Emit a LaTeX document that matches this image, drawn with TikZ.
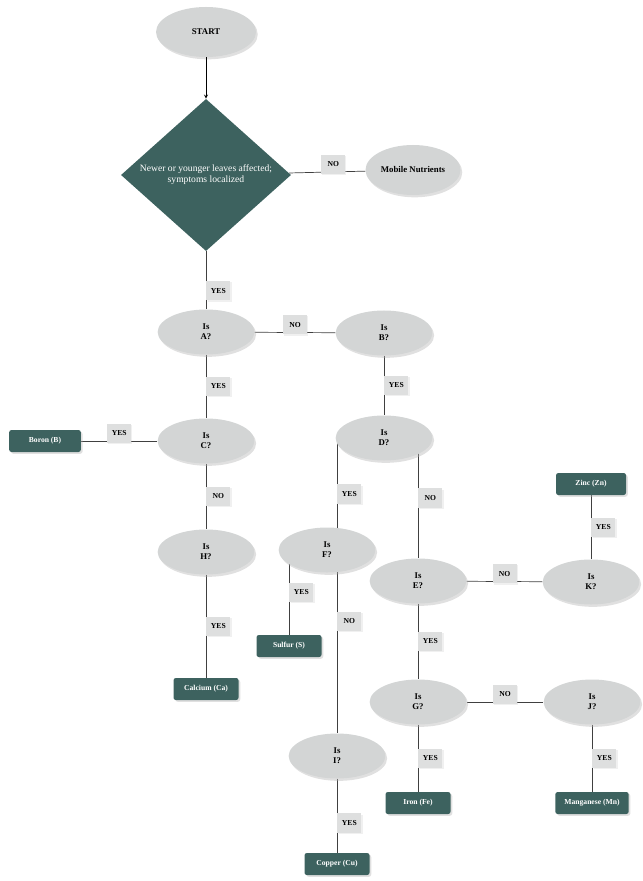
\documentclass[tikz,border=0pt]{standalone}
\usepackage{fontspec}
\setmainfont{Liberation Serif}
\usetikzlibrary{shapes.geometric,shadows,backgrounds}
\definecolor{flowteal}{HTML}{3D625F}
\definecolor{ellgrey}{HTML}{D3D5D5}
\definecolor{tagfill}{HTML}{DEDFDF}
\begin{document}
\begin{tikzpicture}[x=0.03cm,y=-0.03cm,
	question/.style={ellipse,fill=ellgrey,minimum width=2.9cm,minimum height=1.35cm,inner sep=0pt,align=center,
		font=\fontsize{7.5}{8.5}\selectfont\bfseries,drop shadow={fill=gray!60,opacity=0.4,shadow xshift=1.5pt,shadow yshift=-2pt}},
	decision/.style={diamond,fill=flowteal,text=white,minimum width=5.1cm,minimum height=4.35cm,inner sep=0pt,align=center,
		font=\fontsize{8.2}{9.5}\selectfont},
	nutrient/.style={rectangle,rounded corners=2pt,fill=flowteal,text=white,minimum width=1.95cm,minimum height=0.66cm,inner sep=1pt,
		font=\fontsize{6.5}{7}\selectfont\bfseries,drop shadow={fill=gray!60,opacity=0.4,shadow xshift=1.5pt,shadow yshift=-1.5pt}},
	tag/.style={rectangle,fill=tagfill,minimum width=0.72cm,minimum height=0.58cm,inner sep=1pt,
		font=\fontsize{6.5}{7}\selectfont\bfseries,drop shadow={fill=gray!40,opacity=0.3,shadow xshift=1pt,shadow yshift=-1pt}},
	link/.style={draw=black!75,line width=0.6pt}]
	\useasboundingbox (0,0) rectangle (642,881);
	% start and first question
	\node[question,minimum width=3cm,minimum height=1.5cm] (start) at (206,32) {START};
	\node[decision] (leaves) at (206,175) {Newer or younger leaves affected;\\symptoms localized};
	\node[question,minimum width=2.85cm,minimum height=1.5cm] (mobile) at (413,170) {Mobile Nutrients};
	\draw[->,>=stealth,line width=0.6pt] (start) -- (leaves);
	% questions
	\node[question] (qa) at (206,332) {Is\\A?};
	\node[question] (qb) at (384,333) {Is\\B?};
	\node[question] (qc) at (206,441) {Is\\C?};
	\node[question] (qd) at (384,438) {Is\\D?};
	\node[question] (qh) at (206,552) {Is\\H?};
	\node[question] (qf) at (327,550) {Is\\F?};
	\node[question] (qe) at (418,581) {Is\\E?};
	\node[question] (qk) at (591,582) {Is\\K?};
	\node[question] (qg) at (418,702) {Is\\G?};
	\node[question] (qj) at (592,702) {Is\\J?};
	\node[question] (qi) at (337,756) {Is\\I?};
	% nutrients
	\node[nutrient,minimum width=2.15cm] (boron) at (45,441) {Boron (B)};
	\node[nutrient] (calcium) at (206,689) {Calcium (Ca)};
	\node[nutrient] (sulfur) at (289,646) {Sulfur (S)};
	\node[nutrient] (copper) at (337,864) {Copper (Cu)};
	\node[nutrient] (iron) at (418,803) {Iron (Fe)};
	\node[nutrient,minimum width=2.2cm] (manganese) at (592,803) {Manganese (Mn)};
	\node[nutrient,minimum width=2.1cm] (zinc) at (591,484) {Zinc (Zn)};
	% connectors
	\begin{scope}[on background layer]
	\draw[link] (leaves) -- node[tag,pos=0.58,anchor=south,yshift=-2pt] {NO} (mobile);
	\draw[link] (leaves) -- node[tag,pos=0.68,anchor=west] {YES} (qa);
	\draw[link] (qa) -- node[tag,anchor=south,yshift=-2pt] {NO} (qb);
	\draw[link] (qa) -- node[tag,anchor=west] {YES} (qc);
	\draw[link] (qc) -- node[tag,anchor=south,yshift=-2pt] {YES} (boron);
	\draw[link] (qc) -- node[tag,anchor=west] {NO} (qh);
	\draw[link] (qh) -- node[tag,anchor=west] {YES} (calcium);
	\draw[link] (qb) -- node[tag,anchor=west] {YES} (qd);
	\draw[link] (qi.center |- qd.center) -- node[tag,anchor=west] {YES} (qi.center |- qf.center);
	\draw[link] (qe.center |- qd.center) -- node[tag,anchor=west] {NO} (qe);
	\draw[link] (sulfur.center |- qf.center) -- node[tag,anchor=west] {YES} (sulfur);
	\draw[link] (qi.center |- qf.center) -- node[tag,pos=0.39,anchor=west] {NO} (qi);
	\draw[link] (qi) -- node[tag,pos=0.6,anchor=west] {YES} (copper);
	\draw[link] (qe) -- node[tag,anchor=south,yshift=-2pt] {NO} (qk);
	\draw[link] (qk) -- node[tag,anchor=west] {YES} (zinc);
	\draw[link] (qe) -- node[tag,anchor=west] {YES} (qg);
	\draw[link] (qg) -- node[tag,anchor=south,yshift=-2pt] {NO} (qj);
	\draw[link] (qg) -- node[tag,anchor=west] {YES} (iron);
	\draw[link] (qj) -- node[tag,anchor=west] {YES} (manganese);
	\end{scope}
\end{tikzpicture}
\end{document}
